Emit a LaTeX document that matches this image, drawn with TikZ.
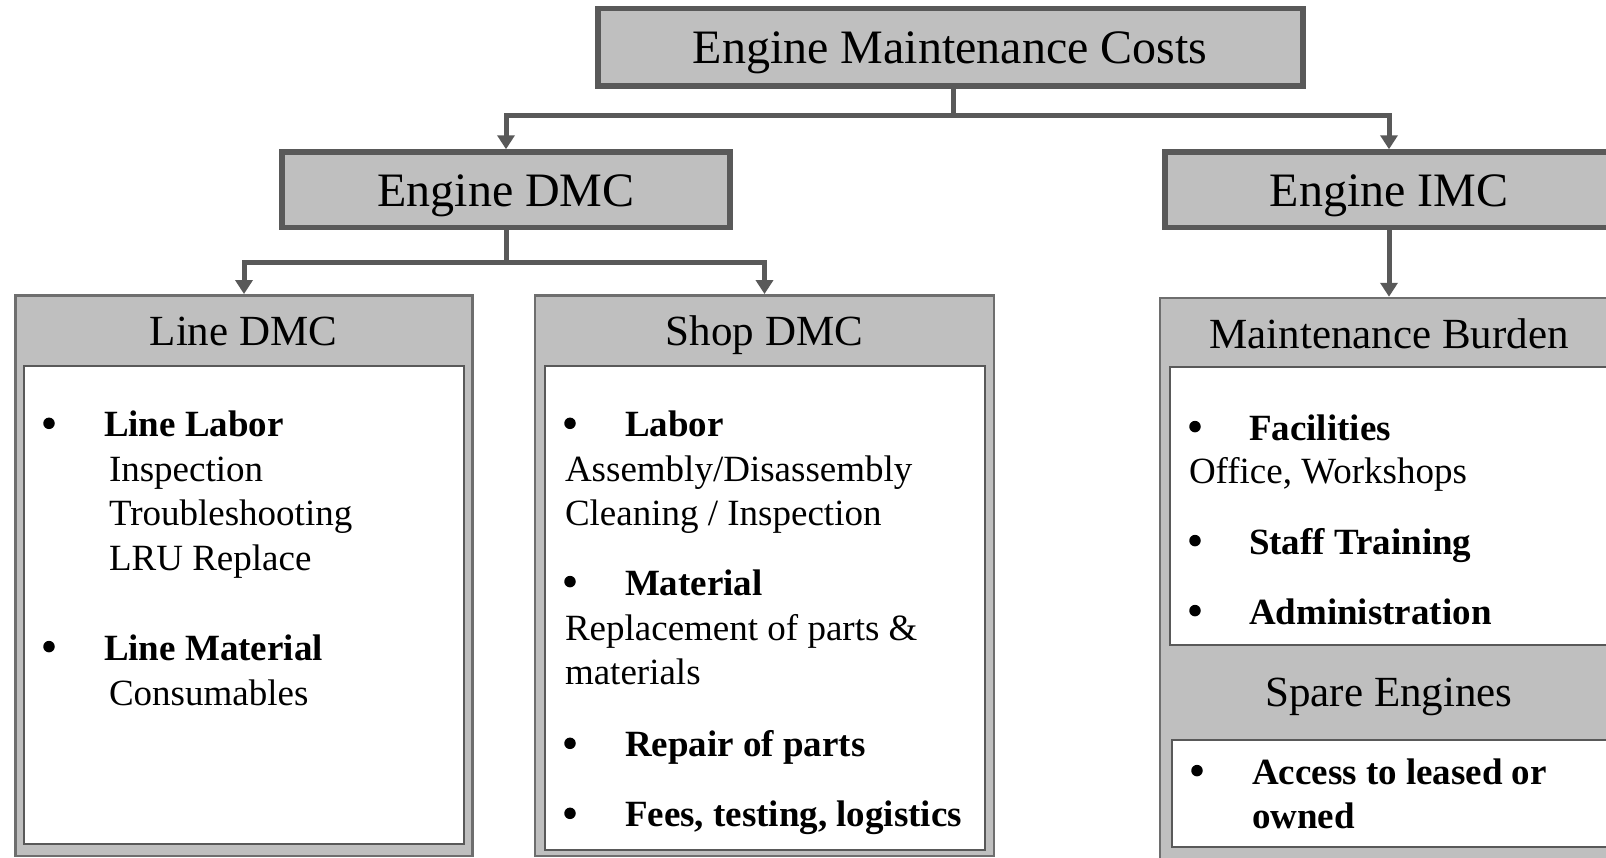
\documentclass[tikz,border=0pt]{standalone}
\usepackage{fontspec}
\setmainfont{Liberation Serif}
\usetikzlibrary{arrows.meta}

\definecolor{edge}{HTML}{595959}
\definecolor{panel}{HTML}{BFBFBF}
\definecolor{rim}{HTML}{6E6E6E}

\tikzset{
  headbox/.style={draw=edge, fill=panel, line width=5.5pt, inner sep=0pt},
  groupbox/.style={draw=rim, fill=panel, line width=2.5pt, inner sep=0pt},
  listbox/.style={draw=edge, fill=white, line width=2pt, inner sep=0pt},
  conn/.style={draw=edge, line width=5pt, -{Triangle[length=14pt,width=17pt]}},
  txt/.style={inner sep=0pt, outer sep=0pt},
  titletxt/.style={txt, anchor=base, font=\fontsize{48}{58}\selectfont},
  headtxt/.style={txt, anchor=base, font=\fontsize{48}{58}\selectfont},
  subtxt/.style={txt, anchor=base, font=\fontsize{43}{52}\selectfont},
  plain/.style={txt, anchor=base west, font=\fontsize{37}{44}\selectfont},
  boldtxt/.style={txt, anchor=base west, font=\fontsize{37}{44}\selectfont\bfseries},
  % list marker: a filled round dot
  dot/.style={circle, fill=black, inner sep=0pt, minimum size=11.5pt},
}

\begin{document}
\begin{tikzpicture}[x=1pt, y=-1pt]
\useasboundingbox (0,0) rectangle (1606,857);
\clip (0,0) rectangle (1606,857);

% ---- top level
\node[headbox, minimum width=705pt, minimum height=77.5pt] (emc) at (950.5,47.25) {};
\node[titletxt] (emct) at (950,63.5) {Engine Maintenance Costs};

% ---- second level
\node[headbox, minimum width=448pt, minimum height=75.7pt] (edmc) at (506,189.85) {};
\node[headtxt] (edmct) at (506,206.7) {Engine DMC};
\node[headbox, minimum width=448pt, minimum height=75.5pt] (eimc) at (1389,189.75) {};
\node[headtxt] (eimct) at (1389,206.7) {Engine IMC};

% ---- group panels
\node[groupbox, minimum width=457.4pt, minimum height=560.7pt] (lineg) at (244,575.65) {};
\node[listbox, minimum width=439.5pt, minimum height=478pt] (linel) at (243.75,605) {};
\node[subtxt] (linet) at (243.5,345) {Line DMC};

\node[groupbox, minimum width=459pt, minimum height=560.7pt] (shopg) at (764.5,575.65) {};
\node[listbox, minimum width=440pt, minimum height=484pt] (shopl) at (765,608) {};
\node[subtxt] (shopt) at (764.5,345) {Shop DMC};

\node[groupbox, minimum width=458pt, minimum height=582pt] (maintg) at (1389,589) {};
\node[listbox, minimum width=470pt, minimum height=278pt] (maintl) at (1405,506) {};
\node[subtxt] (maintt) at (1389,348) {Maintenance Burden};
\node[subtxt] (sparet) at (1389,706.7) {Spare Engines};
\node[listbox, minimum width=468pt, minimum height=107pt] (sparel) at (1406,793.5) {};

% ---- connectors
\coordinate (j1) at (953.7,115);
\coordinate (j2) at (506,262);
\draw[conn] ([xshift=3.2pt]emc.south) -- (j1) -| (edmc.north);
\draw[conn] ([xshift=3.2pt]emc.south) -- (j1) -| (eimc.north);
\draw[conn] (edmc.south) -- (j2) -| (lineg.north);
\draw[conn] (edmc.south) -- (j2) -| (shopg.north);
\draw[conn] (eimc.south) -- (maintg.north);

% ---- Line DMC list
\node[dot] (lb1) at (49,423.3) {};
\node[boldtxt] (la1) at (104,436.7) {Line Labor};
\node[plain] (la2) at (109,481.7) {Inspection};
\node[plain] (la3) at (109,525.5) {Troubleshooting};
\node[plain] (la4) at (109,570) {LRU Replace};
\node[dot] (lb2) at (49,646.6) {};
\node[boldtxt] (la5) at (104,660) {Line Material};
\node[plain] (la6) at (109,705) {Consumables};

% ---- Shop DMC list
\node[dot] (sb1) at (570,423.3) {};
\node[boldtxt] (sa1) at (625,436.7) {Labor};
\node[plain] (sa2) at (565,481) {Assembly/Disassembly};
\node[plain] (sa3) at (565,525) {Cleaning / Inspection};
\node[dot] (sb2) at (570,581.6) {};
\node[boldtxt] (sa4) at (625,595) {Material};
\node[plain] (sa5) at (565,640) {Replacement of parts \&};
\node[plain] (sa6) at (565,684) {materials};
\node[dot] (sb3) at (570,743.3) {};
\node[boldtxt] (sa7) at (625,756.7) {Repair of parts};
\node[dot] (sb4) at (570,813.3) {};
\node[boldtxt] (sa8) at (625,826.7) {Fees, testing, logistics};

% ---- Maintenance Burden list
\node[dot] (mb1) at (1195,426.6) {};
\node[boldtxt] (ma1) at (1249,440) {Facilities};
\node[plain] (ma2) at (1189,483.5) {Office, Workshops};
\node[dot] (mb2) at (1195,540.6) {};
\node[boldtxt] (ma3) at (1249,554) {Staff Training};
\node[dot] (mb3) at (1195,610.6) {};
\node[boldtxt] (ma4) at (1249,624) {Administration};

% ---- Spare Engines list
\node[dot] (pb1) at (1197,770.6) {};
\node[boldtxt] (pa1) at (1252,784) {Access to leased or};
\node[boldtxt] (pa2) at (1252,828) {owned};
\end{tikzpicture}
\end{document}
